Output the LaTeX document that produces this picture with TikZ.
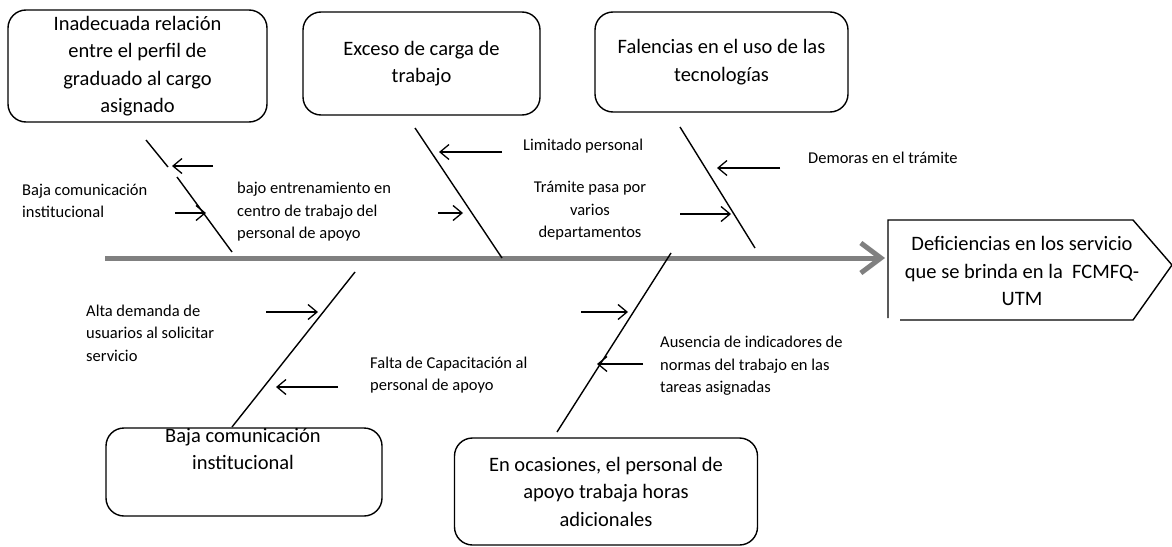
\documentclass[tikz,border=0pt]{standalone}
\usepackage{fontspec}
\setmainfont{Carlito}
\usetikzlibrary{arrows.meta}
\definecolor{spinegray}{RGB}{128,128,128}
\tikzset{
  cause/.style={draw, rounded corners=18pt, line width=1.4pt, align=center, inner sep=2pt,
    font=\fontsize{20.5}{27.5}\selectfont},
  boxtext/.style={align=center, inner sep=0pt, font=\fontsize{20.5}{27.5}\selectfont},
  lbl/.style={align=left, inner sep=0pt, font=\fontsize{16.5}{22.5}\selectfont},
  lblc/.style={align=center, inner sep=0pt, font=\fontsize{16.5}{22.5}\selectfont},
  bone/.style={line width=1.4pt},
  sub/.style={line width=1.3pt, -{Straight Barb[length=9pt,width=15pt]}},
  spine/.style={line width=5pt, draw=spinegray, -{Straight Barb[length=20pt,width=30pt]}}
}
\begin{document}
\begin{tikzpicture}[x=1pt,y=-1pt]
\useasboundingbox (0,0) rectangle (1172,546);
% cause boxes
\node[cause, minimum width=259pt, minimum height=112pt] (c1) at (137.5,66)
  {Inadecuada relación\\entre el perfil de\\graduado al cargo\\asignado};
\node[cause, minimum width=237pt, minimum height=103pt] (c2) at (421.5,63.5)
  {Exceso de carga de\\trabajo};
\node[cause, minimum width=253pt, minimum height=100pt] (c3) at (721.5,62)
  {Falencias en el uso de las\\tecnologías};
\node[cause, minimum width=276pt, minimum height=88pt] (c4) at (244,472) {};
\node[boxtext] (c4t) at (243,449) {Baja comunicación\\institucional};
\node[cause, minimum width=303pt, minimum height=107pt] (c5) at (606,491.5)
  {En ocasiones, el personal de\\apoyo trabaja horas\\adicionales};
% effect
\coordinate (e1) at (888,318);
\coordinate (e2) at (888,220);
\coordinate (e3) at (1133,220);
\coordinate (e4) at (1172,265);
\coordinate (e5) at (1133,320);
\coordinate (e6) at (900,320);
\draw[line width=1.4pt] (e1) -- (e2) -- (e3) -- (e4) -- (e5) -- (e6);
\node[boxtext] (eff) at (1022,271)
  {Deficiencias en los servicio\\que se brinda en la \ FCMFQ-\\UTM};
% spine
\coordinate (s0) at (105,258);
\coordinate (s1) at (885,258);
\draw[spine] (s0) -- (s1);
% bones
\coordinate (b1a) at (146,140); \coordinate (b1b) at (168,167);
\coordinate (b1c) at (177,177); \coordinate (b1d) at (232,252);
\draw[bone] (b1a) -- (b1b);
\draw[bone] (b1c) -- (b1d);
\coordinate (b2a) at (415,128); \coordinate (b2b) at (502,258);
\draw[bone] (b2a) -- (b2b);
\coordinate (b3a) at (680,127); \coordinate (b3b) at (755,248);
\draw[bone] (b3a) -- (b3b);
\coordinate (b4a) at (355,272); \coordinate (b4b) at (232,427);
\draw[bone] (b4a) -- (b4b);
\coordinate (b5a) at (671,253); \coordinate (b5b) at (557,432);
\draw[bone] (b5a) -- (b5b);
% sub-cause arrows
\coordinate (a1s) at (213,166); \coordinate (a1e) at (172,166);
\coordinate (a2s) at (175,213); \coordinate (a2e) at (206,213);
\coordinate (a3s) at (502,152); \coordinate (a3e) at (439,152);
\coordinate (a4s) at (438,213); \coordinate (a4e) at (463,213);
\coordinate (a5s) at (780,168); \coordinate (a5e) at (717,168);
\coordinate (a6s) at (680,214); \coordinate (a6e) at (731,214);
\coordinate (a7s) at (266,312); \coordinate (a7e) at (318,312);
\coordinate (a8s) at (338,387); \coordinate (a8e) at (276,387);
\coordinate (a9s) at (581,312); \coordinate (a9e) at (628,312);
\coordinate (a10s) at (643,364); \coordinate (a10e) at (597,364);
\foreach \i in {1,...,10} \draw[sub] (a\i s) -- (a\i e);
% labels
\node[lbl, anchor=west] (l1) at (22,201) {Baja comunicación\\institucional};
\node[lbl, anchor=west] (l2) at (237,212) {bajo entrenamiento en\\centro de trabajo del\\personal de apoyo};
\node[lbl, anchor=west] (l3) at (523,146) {Limitado personal};
\node[lblc] (l4) at (590,211) {Trámite pasa por\\varios\\departamentos};
\node[lbl, anchor=west] (l5) at (808,158) {Demoras en el trámite};
\node[lbl, anchor=west] (l6) at (86,333) {Alta demanda de\\usuarios al solicitar\\servicio};
\node[lbl, anchor=west] (l7) at (370,375) {Falta de Capacitación al\\personal de apoyo};
\node[lbl, anchor=west] (l8) at (660,366) {Ausencia de indicadores de\\normas del trabajo en las\\tareas asignadas};
\end{tikzpicture}
\end{document}
